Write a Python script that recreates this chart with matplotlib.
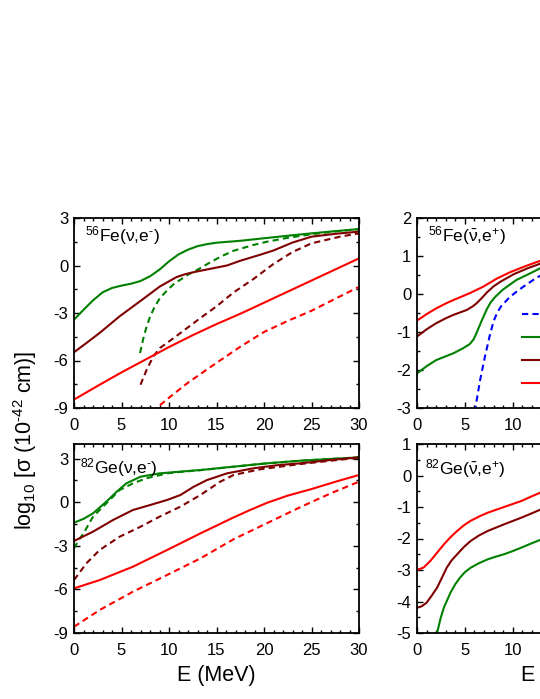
import numpy as np
import matplotlib
matplotlib.use('Agg')
import matplotlib.pyplot as plt
from matplotlib.ticker import MultipleLocator


plt.rcParams['font.family'] = ['Liberation Sans', 'DejaVu Sans']
plt.rcParams['mathtext.fontset'] = 'custom'
plt.rcParams['mathtext.rm'] = 'Liberation Sans'
plt.rcParams['mathtext.it'] = 'Liberation Sans'
plt.rcParams['axes.unicode_minus'] = False


# ----------------- data ----------------- #

# 56Fe(nu,e-)
fe_nu_green_E = [0, 1, 2, 3, 4, 5, 6, 7, 8, 9, 10, 11, 12, 13, 14, 15, 17.5, 20, 22.5, 25, 27.5, 30]
fe_nu_green = [-3.42, -2.8, -2.2, -1.7, -1.42, -1.27, -1.15, -0.98, -0.68, -0.26, 0.26, 0.7, 1.0, 1.22,
               1.35, 1.44, 1.56, 1.72, 1.88, 2.03, 2.17, 2.3]
fe_nu_green_d_E = [6.95, 7.3, 7.65, 8.0, 8.35, 8.7, 9.05, 9.6, 10.1, 10.6, 11.2, 12.0, 12.9, 14, 15.4, 16.8,
                   18.9, 20.3, 22.5, 25, 27.5, 30]
fe_nu_green_d = [-5.53, -4.6, -3.84, -3.25, -2.79, -2.4, -2.05, -1.7, -1.4, -1.12, -0.9, -0.58, -0.3, 0.08,
                 0.55, 0.93, 1.3, 1.5, 1.75, 1.97, 2.15, 2.3]
fe_nu_dred_E = [0, 1.3, 2.7, 4.8, 6.95, 9.05, 10.8, 11.7, 12.6, 14, 16.1, 17.5, 19.6, 21, 23, 25, 27.5, 30]
fe_nu_dred = [-5.48, -4.9, -4.26, -3.21, -2.26, -1.32, -0.73, -0.55, -0.42, -0.25, 0.0, 0.3, 0.68, 0.95,
              1.45, 1.82, 2.0, 2.14]
fe_nu_dred_d_E = [7.0, 7.65, 8.35, 9.05, 10.5, 11.9, 13.3, 15, 16.8, 18.9, 21, 23, 25, 28, 30]
fe_nu_dred_d = [-7.53, -6.58, -5.74, -5.21, -4.58, -3.95, -3.32, -2.58, -1.7, -0.85, 0.1, 0.85, 1.4, 1.82, 2.03]
fe_nu_red_E = [0, 2.5, 5, 7.5, 10, 12.5, 15, 17.5, 20, 22.5, 25, 27.5, 30]
fe_nu_red = [-8.47, -7.6, -6.75, -5.95, -5.15, -4.4, -3.7, -3.05, -2.35, -1.65, -0.95, -0.25, 0.45]
fe_nu_red_d_E = [8.3, 8.7, 10, 12, 15, 17.5, 20, 22.5, 25, 27.5, 30]
fe_nu_red_d = [-9.3, -9.0, -8.35, -7.4, -6.15, -5.13, -4.2, -3.5, -2.86, -2.1, -1.35]

# 82Ge(nu,e-)
ge_nu_green_E = [0, 1, 2, 3.4, 4.5, 5.5, 7, 9, 11.2, 13.3, 16.8, 20.3, 23.8, 27, 30]
ge_nu_green = [-1.41, -1.15, -0.77, 0.03, 0.72, 1.29, 1.75, 1.98, 2.1, 2.21, 2.44, 2.67, 2.85, 2.97, 3.08]
ge_nu_green_d_E = [0, 0.5, 1, 2, 3.4, 4.8, 6.2, 7.6, 9.8, 11.2, 13.3, 16.8, 20.3, 23.8, 27, 30]
ge_nu_green_d = [-3.18, -2.6, -2.15, -1.0, -0.08, 0.83, 1.29, 1.64, 1.98, 2.08, 2.2, 2.44, 2.67, 2.85, 2.97, 3.08]
ge_nu_dred_E = [0, 2, 4.1, 6.2, 8, 9.8, 11.2, 12.6, 14, 16.1, 18.9, 21.5, 23.8, 27, 30]
ge_nu_dred = [-2.67, -2.03, -1.23, -0.54, -0.2, 0.15, 0.49, 1.06, 1.52, 1.98, 2.33, 2.55, 2.67, 2.9, 3.08]
ge_nu_dred_d_E = [0, 1.3, 2.7, 4.8, 7, 9, 11.2, 13.3, 15.4, 16.8, 19.6, 23.8, 27, 30]
ge_nu_dred_d = [-5.36, -4.21, -3.29, -2.38, -1.69, -1.0, -0.31, 0.49, 1.41, 1.87, 2.26, 2.62, 2.85, 3.05]
ge_nu_red_E = [0, 2.7, 6.2, 9.8, 13.3, 16.8, 18.5, 20.3, 22.5, 25, 27.5, 30]
ge_nu_red = [-5.93, -5.36, -4.44, -3.29, -2.15, -1.05, -0.55, -0.05, 0.45, 0.9, 1.4, 1.87]
ge_nu_red_d_E = [0, 2.7, 6.2, 9.8, 13.3, 16.8, 20.3, 23.8, 27, 30]
ge_nu_red_d = [-8.57, -7.42, -6.16, -5.01, -3.87, -2.55, -1.45, -0.35, 0.6, 1.41]

# 56Fe(nubar,e+)
fe_anu_red_E = [0, 1, 2, 3, 3.8, 5.5, 6.9, 8.3, 9.7, 11.1, 12.5, 14]
fe_anu_red = [-0.70, -0.53, -0.38, -0.25, -0.16, 0.02, 0.19, 0.4, 0.57, 0.71, 0.84, 0.96]
fe_anu_dred_E = [0, 1, 2, 3, 3.8, 5.2, 5.8, 6.2, 6.8, 7.3, 8, 8.7, 10.1, 11.5, 12.9, 14]
fe_anu_dred = [-1.12, -0.93, -0.77, -0.64, -0.55, -0.42, -0.33, -0.25, -0.1, 0.04, 0.2, 0.32, 0.52, 0.67,
               0.8, 0.9]
fe_anu_green_E = [0, 1, 2, 3, 3.8, 4.8, 5.5, 5.9, 6.2, 6.5, 6.8, 7.3, 7.7, 8.2, 9, 10.4, 11.8, 12.9, 14]
fe_anu_green = [-2.09, -1.9, -1.74, -1.64, -1.56, -1.43, -1.32, -1.2, -1.04, -0.86, -0.68, -0.4, -0.22,
                -0.07, 0.12, 0.37, 0.54, 0.68, 0.8]
fe_anu_blue_E = [6.0, 6.1, 6.6, 7.1, 7.6, 8.0, 8.4, 8.8, 9.7, 10.4, 11.1, 12.5, 14]
fe_anu_blue = [-3.1, -3.0, -2.26, -1.65, -1.1, -0.72, -0.48, -0.32, -0.08, 0.06, 0.19, 0.43, 0.62]

# 82Ge(nubar,e+)
ge_anu_red_E = [0, 0.7, 1.4, 2.1, 2.8, 3.5, 4.2, 4.9, 5.6, 6.5, 7.4, 9.1, 10.9, 12, 13, 14]
ge_anu_red = [-3.0, -2.92, -2.71, -2.45, -2.19, -1.96, -1.76, -1.58, -1.44, -1.3, -1.18, -1.0, -0.81,
              -0.66, -0.53, -0.42]
ge_anu_dred_E = [0, 0.5, 1, 1.5, 2.1, 2.6, 3.1, 3.6, 4.2, 4.9, 5.6, 6.5, 7.4, 9.1, 10.9, 12, 13, 14]
ge_anu_dred = [-4.2, -4.15, -4.04, -3.83, -3.56, -3.25, -2.93, -2.7, -2.5, -2.27, -2.08, -1.9, -1.76,
               -1.55, -1.34, -1.2, -1.07, -0.95]
ge_anu_green_E = [1.8, 2.1, 2.45, 2.8, 3.5, 4.0, 4.5, 5.0, 5.6, 6.5, 7.4, 8.2, 9.1, 10, 10.9, 12, 13, 14]
ge_anu_green = [-5.5, -5.0, -4.55, -4.2, -3.72, -3.45, -3.24, -3.07, -2.93, -2.78, -2.66, -2.58, -2.5,
                -2.4, -2.29, -2.15, -2.03, -1.88]

legend_labels = ['T = 0', 'T = 0.86 MeV', 'T = 1.29 MeV', 'T = 1.72 MeV']


green = '#008000'
dred = '#800000'
red = '#ff0000'
blue = '#0000ff'
lw = 1.5
dash = (3, 2)

fz_tick = 12
fz_label = 15.5
fz_text = 12.5


def style_axes(ax, ymin, ymax, ymajor):
    ax.set_xlim(0, 30)
    ax.set_ylim(ymin, ymax)
    ax.xaxis.set_major_locator(MultipleLocator(5))
    ax.xaxis.set_minor_locator(MultipleLocator(1))
    ax.yaxis.set_major_locator(MultipleLocator(ymajor))
    ax.yaxis.set_minor_locator(MultipleLocator(ymajor / 2))
    ax.tick_params(which='both', direction='in', top=True, right=True, width=1.0)
    ax.tick_params(which='major', length=4.5)
    ax.tick_params(which='minor', length=2.5)
    ax.tick_params(axis='x', labelsize=fz_tick, pad=7)
    ax.tick_params(axis='y', labelsize=fz_tick, pad=4)
    for s in ax.spines.values():
        s.set_linewidth(1.3)


fig = plt.figure(figsize=(5.4, 6.99), dpi=100)

W, H = 540.0, 699.0
def px_axes(x0, y0, x1, y1):
    return fig.add_axes([x0 / W, 1 - y1 / H, (x1 - x0) / W, (y1 - y0) / H])

ax1 = px_axes(74, 218, 359, 408)
ax2 = px_axes(417, 218, 704, 408)
ax3 = px_axes(74, 444, 359, 633)
ax4 = px_axes(417, 444, 704, 633)


# top-left
ax1.plot(fe_nu_green_E, fe_nu_green, color=green, lw=lw)
ax1.plot(fe_nu_green_d_E, fe_nu_green_d, color=green, lw=lw, dashes=dash)
ax1.plot(fe_nu_dred_E, fe_nu_dred, color=dred, lw=lw)
ax1.plot(fe_nu_dred_d_E, fe_nu_dred_d, color=dred, lw=lw, dashes=dash)
ax1.plot(fe_nu_red_E, fe_nu_red, color=red, lw=lw)
ax1.plot(fe_nu_red_d_E, fe_nu_red_d, color=red, lw=lw, dashes=dash)
style_axes(ax1, -9, 3, 3)
ax1.text(0.039, 0.875, r'$^{56}$Fe($\nu$,e$^{\text{-}}$)', transform=ax1.transAxes,
         fontsize=fz_text, va='baseline', ha='left')

# top-right
ax2.plot(fe_anu_blue_E, fe_anu_blue, color=blue, lw=lw, dashes=dash, label=legend_labels[0])
ax2.plot(fe_anu_green_E, fe_anu_green, color=green, lw=lw, label=legend_labels[1])
ax2.plot(fe_anu_dred_E, fe_anu_dred, color=dred, lw=lw, label=legend_labels[2])
ax2.plot(fe_anu_red_E, fe_anu_red, color=red, lw=lw, label=legend_labels[3])
style_axes(ax2, -3, 2, 1)
ax2.text(0.038, 0.875, r'$^{56}$Fe($\bar{\nu}$,e$^{+}$)', transform=ax2.transAxes,
         fontsize=fz_text, va='baseline', ha='left')
ax2.legend(loc='upper left', bbox_to_anchor=(0.366, 0.525), frameon=False, fontsize=11,
           borderpad=0, borderaxespad=0, handlelength=3.0, labelspacing=0.6)

# bottom-left
ax3.plot(ge_nu_green_E, ge_nu_green, color=green, lw=lw)
ax3.plot(ge_nu_green_d_E, ge_nu_green_d, color=green, lw=lw, dashes=dash)
ax3.plot(ge_nu_dred_E, ge_nu_dred, color=dred, lw=lw)
ax3.plot(ge_nu_dred_d_E, ge_nu_dred_d, color=dred, lw=lw, dashes=dash)
ax3.plot(ge_nu_red_E, ge_nu_red, color=red, lw=lw)
ax3.plot(ge_nu_red_d_E, ge_nu_red_d, color=red, lw=lw, dashes=dash)
style_axes(ax3, -9, 4, 3)
ax3.text(0.021, 0.845, r'$^{82}$Ge($\nu$,e$^{\text{-}}$)', transform=ax3.transAxes,
         fontsize=fz_text, va='baseline', ha='left')
ax3.set_xlabel('E (MeV)', fontsize=fz_label, labelpad=5)

# bottom-right
ax4.plot(ge_anu_green_E, ge_anu_green, color=green, lw=lw)
ax4.plot(ge_anu_dred_E, ge_anu_dred, color=dred, lw=lw)
ax4.plot(ge_anu_red_E, ge_anu_red, color=red, lw=lw)
style_axes(ax4, -5, 1, 1)
ax4.text(0.028, 0.84, r'$^{82}$Ge($\bar{\nu}$,e$^{+}$)', transform=ax4.transAxes,
         fontsize=fz_text, va='baseline', ha='left')
ax4.set_xlabel('E (MeV)', fontsize=fz_label, labelpad=5)

fig.text(25 / W, 1 - 440 / H, r'log$_{10}$ [$\sigma$ (10$^{\text{-}42}$ cm)]', rotation=90,
         fontsize=fz_label, ha='center', va='center')

fig.savefig('out.png', dpi=100)
